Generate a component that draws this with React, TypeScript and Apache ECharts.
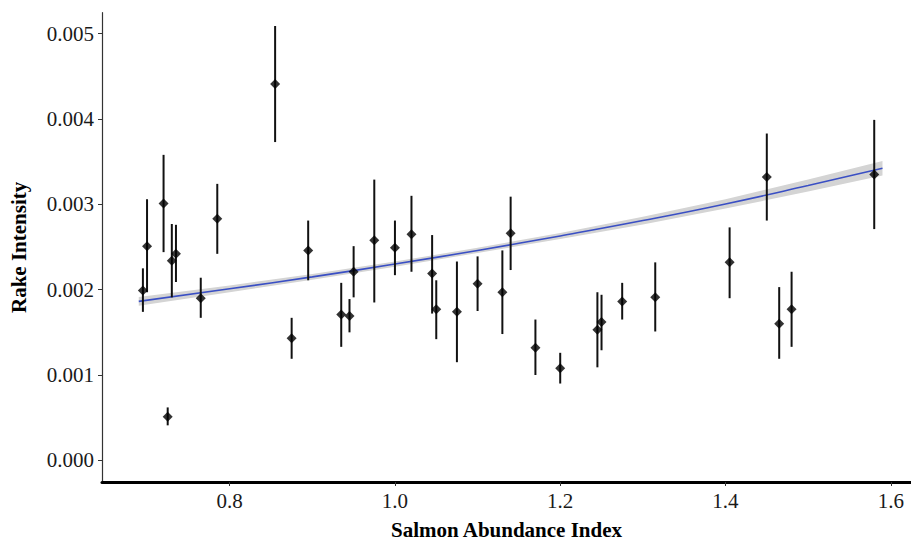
import React, { useEffect, useRef } from "react";
import * as echarts from "echarts";

// Observations: salmon abundance index, rake intensity, error-bar bounds
const abundance = [0.695, 0.700, 0.720, 0.730, 0.735, 0.725, 0.765, 0.785, 0.855, 0.875, 0.895, 0.935, 0.945, 0.950, 0.975, 1.000, 1.020, 1.045, 1.050, 1.075, 1.100, 1.130, 1.140, 1.170, 1.200, 1.245, 1.250, 1.275, 1.315, 1.405, 1.450, 1.465, 1.480, 1.580];
const intensity = [0.00199, 0.00251, 0.00301, 0.00234, 0.00242, 0.00051, 0.00190, 0.00283, 0.00441, 0.00143, 0.00246, 0.00171, 0.00169, 0.00221, 0.00258, 0.00249, 0.00265, 0.00219, 0.00177, 0.00174, 0.00207, 0.00197, 0.00266, 0.00132, 0.00108, 0.00153, 0.00162, 0.00186, 0.00191, 0.00232, 0.00332, 0.00160, 0.00177, 0.00335];
const intensityLow = [0.00174, 0.00197, 0.00244, 0.00191, 0.00209, 0.00041, 0.00167, 0.00242, 0.00373, 0.00119, 0.00211, 0.00133, 0.00150, 0.00191, 0.00185, 0.00217, 0.00221, 0.00172, 0.00142, 0.00115, 0.00175, 0.00148, 0.00223, 0.00100, 0.00090, 0.00109, 0.00129, 0.00165, 0.00151, 0.00190, 0.00281, 0.00119, 0.00133, 0.00271];
const intensityHigh = [0.00225, 0.00306, 0.00358, 0.00277, 0.00276, 0.00062, 0.00214, 0.00324, 0.00509, 0.00167, 0.00281, 0.00208, 0.00189, 0.00251, 0.00329, 0.00281, 0.00310, 0.00264, 0.00211, 0.00233, 0.00239, 0.00246, 0.00309, 0.00165, 0.00126, 0.00197, 0.00194, 0.00208, 0.00232, 0.00273, 0.00383, 0.00203, 0.00221, 0.00399];

// Fitted trend and its confidence band
const fitX = [0.69, 0.80, 0.90, 1.00, 1.10, 1.20, 1.30, 1.40, 1.50, 1.59];
const fitY = [0.001863, 0.002010, 0.002150, 0.002300, 0.002460, 0.002630, 0.002810, 0.003005, 0.003220, 0.003422];
const fitLow = [0.001813, 0.001970, 0.002115, 0.002270, 0.002430, 0.002595, 0.002765, 0.002950, 0.003150, 0.003337];
const fitHigh = [0.001913, 0.002050, 0.002185, 0.002330, 0.002490, 0.002665, 0.002855, 0.003060, 0.003290, 0.003507];

// Tick labels
const xTicks = [0.8, 1.0, 1.2, 1.4, 1.6];
const yTicks = [0, 0.001, 0.002, 0.003, 0.004, 0.005];

const FONT = "'Liberation Serif', 'DejaVu Serif', serif";

export default function App() {
  const ref = useRef<HTMLDivElement>(null);

  useEffect(() => {
    if (!ref.current) return;
    const chart = echarts.init(ref.current, null, { renderer: "svg" });

    const bars = abundance.map((x, i) => [x, intensityLow[i], intensityHigh[i]]);
    const points = abundance.map((x, i) => [x, intensity[i]]);
    const fitLine = fitX.map((x, i) => [x, fitY[i]]);
    const bandData = fitX.map((x, i) => [x, fitLow[i], fitHigh[i]]);

    chart.setOption({
      animation: false,
      backgroundColor: "#ffffff",
      grid: { left: 98, right: 0, top: 12.7, bottom: 56, containLabel: false },
      xAxis: {
        type: "value",
        min: 0.6455,
        max: 1.6245,
        name: "Salmon Abundance Index",
        nameLocation: "middle",
        nameGap: 37,
        nameTextStyle: { fontFamily: FONT, fontWeight: "bold", fontSize: 21, color: "#000" },
        axisLine: { show: true, onZero: false, lineStyle: { color: "#000", width: 3 } },
        axisTick: { show: true, length: 4, customValues: xTicks, lineStyle: { color: "#333", width: 1 } },
        axisLabel: {
          customValues: xTicks,
          formatter: (v: number) => v.toFixed(1),
          fontFamily: FONT,
          fontSize: 21,
          color: "#1a1a1a",
          margin: 8,
        },
        splitLine: { show: false },
      },
      yAxis: {
        type: "value",
        min: -0.000254,
        max: 0.005246,
        name: "Rake Intensity",
        nameLocation: "middle",
        nameGap: 73,
        nameTextStyle: { fontFamily: FONT, fontWeight: "bold", fontSize: 21, color: "#000" },
        axisLine: { show: true, onZero: false, lineStyle: { color: "#333", width: 1.2 } },
        axisTick: { show: true, length: 4, customValues: yTicks, lineStyle: { color: "#333", width: 1 } },
        axisLabel: {
          customValues: yTicks,
          formatter: (v: number) => v.toFixed(3),
          fontFamily: FONT,
          fontSize: 21,
          color: "#1a1a1a",
          margin: 8,
        },
        splitLine: { show: false },
      },
      series: [
        {
          type: "custom",
          name: "band",
          data: bandData,
          z: 1,
          renderItem: (params: any, api: any) => {
            if (params.dataIndex !== 0) return null;
            const upper = bandData.map((d) => api.coord([d[0], d[2]]));
            const lower = bandData.map((d) => api.coord([d[0], d[1]])).reverse();
            return {
              type: "polygon",
              shape: { points: upper.concat(lower) },
              style: { fill: "#d4d4d4", stroke: "none" },
            };
          },
        },
        {
          type: "line",
          data: fitLine,
          smooth: true,
          showSymbol: false,
          z: 2,
          lineStyle: { color: "#3a4fc4", width: 1.6 },
          itemStyle: { color: "#3a4fc4" },
        },
        {
          type: "custom",
          name: "errorbars",
          data: bars,
          z: 3,
          renderItem: (params: any, api: any) => {
            const x = api.value(0);
            const p1 = api.coord([x, api.value(1)]);
            const p2 = api.coord([x, api.value(2)]);
            return {
              type: "line",
              shape: { x1: p1[0], y1: p1[1], x2: p2[0], y2: p2[1] },
              style: { stroke: "#111", lineWidth: 2 },
            };
          },
        },
        {
          type: "scatter",
          data: points,
          symbol: "diamond",
          symbolSize: [10, 10],
          z: 4,
          itemStyle: { color: "#000" },
        },
      ],
    });

    return () => chart.dispose();
  }, []);

  return (
    <div
      ref={ref}
      style={{ position: "fixed", left: 0, top: 0, width: 911, height: 545, background: "#fff" }}
    />
  );
}
